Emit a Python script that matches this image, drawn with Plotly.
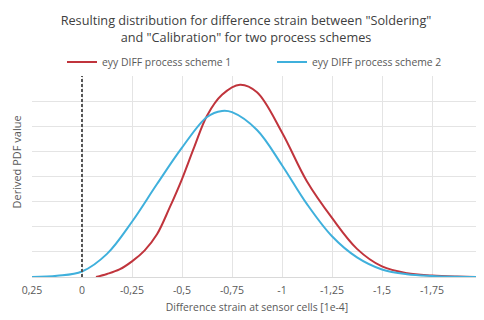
import plotly.graph_objects as go

# ---- data ----
x_red = [-0.07, -0.125, -0.1875, -0.25, -0.3125, -0.375, -0.4375, -0.5, -0.5625, -0.625,
         -0.7, -0.79, -0.875, -1.0, -1.125, -1.25, -1.375, -1.5, -1.625, -1.75, -1.875, -2.0]
y_red = [0.0, 0.12, 0.3, 0.62, 1.05, 1.7, 2.75, 3.9, 5.2, 6.42,
         7.25, 7.65, 7.35, 5.75, 3.8, 2.35, 1.12, 0.42, 0.15, 0.06, 0.02, 0.0]

x_blue = [0.25, 0.125, 0.0, -0.125, -0.25, -0.375, -0.5, -0.625, -0.7, -0.75,
          -0.875, -1.0, -1.125, -1.25, -1.375, -1.5, -1.625, -1.75, -1.875, -2.0]
y_blue = [0.0, 0.05, 0.22, 0.92, 2.2, 3.7, 5.15, 6.37, 6.61, 6.56,
          5.85, 4.45, 2.9, 1.62, 0.78, 0.3, 0.11, 0.04, 0.01, 0.0]

tick_vals = [0.25, 0, -0.25, -0.5, -0.75, -1, -1.25, -1.5, -1.75, -2]
tick_text = ["0,25", "0", "-0,25", "-0,5", "-0,75", "-1", "-1,25", "-1,5", "-1,75", "-2"]

names = ["eyy DIFF process scheme 1", "eyy DIFF process scheme 2"]
title_text = ('Resulting distribution for difference strain between "Soldering"'
              '<br>and "Calibration" for two process schemes')
x_title = "Difference strain at sensor cells [1e-4]"
y_title = "Derived PDF value"

FONT = "Open Sans"
# the page body adds an 8px offset, so the figure is sized to the visible area
W, H = 476, 312
PL, PR, PT, PB = 24, 2, 68, 43

fig = go.Figure()
fig.add_trace(go.Scatter(x=x_red, y=y_red, mode="lines", name=names[0], legend="legend",
                         line=dict(color="#c0343c", width=2, shape="spline", smoothing=1.0)))
fig.add_trace(go.Scatter(x=x_blue, y=y_blue, mode="lines", name=names[1], legend="legend2",
                         line=dict(color="#3fb0dc", width=2, shape="spline", smoothing=1.0)))

fig.add_vline(x=0, line=dict(color="#555555", width=2, dash="3px,2px"))

# y-axis title, placed a little above the plot centre as in the reference
plot_h = H - PT - PB
fig.add_annotation(text=y_title, textangle=-90, showarrow=False,
                   xref="paper", yref="paper",
                   x=(7.5 - PL) / (W - PL - PR), xanchor="center",
                   y=(H - PB - 154) / plot_h, yanchor="middle",
                   font=dict(family=FONT, size=11, color="#595959"))

leg_common = dict(orientation="h", yref="container", yanchor="middle", y=1 - 54 / H,
                  xref="container", xanchor="left", itemwidth=30,
                  font=dict(family=FONT, size=10.4, color="#595959"),
                  bgcolor="rgba(0,0,0,0)", borderwidth=0)

fig.update_layout(
    width=W, height=H,
    margin=dict(l=PL, r=PR, t=PT, b=PB, autoexpand=False),
    paper_bgcolor="white", plot_bgcolor="white",
    font=dict(family=FONT, color="#595959", size=10),
    title=dict(text=title_text, x=0.5, xref="container", xanchor="center",
               yref="container", y=1 - 17 / H, yanchor="middle",
               font=dict(family=FONT, size=12.7, color="#404040")),
    showlegend=True,
    legend=dict(leg_common, x=54 / W),
    legend2=dict(leg_common, x=264 / W),
    xaxis=dict(range=[0.25, -2], tickvals=tick_vals, ticktext=tick_text,
               showgrid=True, gridcolor="#e4e4e4", gridwidth=1, zeroline=False,
               showline=True, linecolor="#d9d9d9", ticks="", automargin=False,
               ticklabeloverflow="allow", ticklabelstandoff=3,
               tickfont=dict(size=10.5, color="#595959"),
               title=dict(text=x_title, standoff=8,
                          font=dict(size=10.4, color="#595959"))),
    yaxis=dict(range=[0, 8], dtick=1, showticklabels=False, showgrid=True,
               gridcolor="#e4e4e4", gridwidth=1, zeroline=False, ticks="",
               automargin=False),
)

fig.write_html("out.html")
